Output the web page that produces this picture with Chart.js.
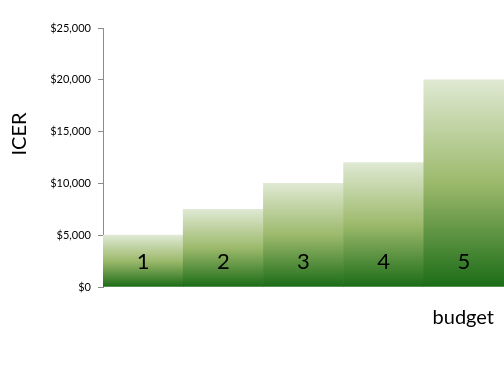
<!DOCTYPE html>
<html>
<head>
<meta charset="utf-8">
<script src="https://cdn.jsdelivr.net/npm/chart.js@4/dist/chart.umd.min.js"></script>
<style>
  html, body { margin: 0; padding: 0; background: #fff; }
  #wrap { width: 504px; height: 385px; }
</style>
</head>
<body>
<div id="wrap"><canvas id="chart"></canvas></div>
<script>
const budgets = ['1', '2', '3', '4', '5'];
const icer = [5000, 7500, 10000, 12000, 20000];
const yTicks = [0, 5000, 10000, 15000, 20000, 25000];

const FONT = 'Lato, "Open Sans", sans-serif';

// each bar gets its own light-to-dark gradient, top of bar to baseline
function barGradient(context) {
  const chart = context.chart;
  if (!chart.chartArea) return '#9bbb59';
  const y = chart.scales.y;
  const top = y.getPixelForValue(icer[context.dataIndex]);
  const bottom = y.getPixelForValue(0);
  const g = chart.ctx.createLinearGradient(0, top, 0, bottom);
  g.addColorStop(0, '#dfe9d3');
  g.addColorStop(0.5, '#9cb96b');
  g.addColorStop(1, '#1b6c17');
  return g;
}

const labelsPlugin = {
  id: 'barLabels',
  afterDatasetsDraw(chart) {
    const {ctx, chartArea} = chart;
    const meta = chart.getDatasetMeta(0);
    const base = chart.scales.y.getPixelForValue(0);
    ctx.save();
    ctx.fillStyle = '#000';
    ctx.textAlign = 'center';
    ctx.textBaseline = 'middle';
    ctx.font = '22px ' + FONT;
    meta.data.forEach((bar, i) => {
      ctx.fillText(budgets[i], bar.x, base - 25);
    });

    // axis titles
    ctx.font = '20px ' + FONT;
    ctx.textAlign = 'right';
    ctx.fillText('budget', chartArea.right - 10, 318);

    ctx.translate(20, 134);
    ctx.rotate(-Math.PI / 2);
    ctx.textAlign = 'center';
    ctx.fillText('ICER', 0, 0);
    ctx.restore();
  }
};

new Chart(document.getElementById('chart'), {
  type: 'bar',
  data: {
    labels: budgets,
    datasets: [{
      data: icer,
      backgroundColor: barGradient,
      borderWidth: 0,
      categoryPercentage: 1,
      barPercentage: 1
    }]
  },
  options: {
    responsive: true,
    maintainAspectRatio: false,
    animation: false,
    layout: { padding: { top: 28, right: 0, bottom: 58, left: 0 } },
    plugins: {
      legend: { display: false },
      tooltip: { enabled: false }
    },
    scales: {
      x: {
        ticks: { display: false },
        grid: { display: false },
        border: { display: false },
        afterFit(scale) { scale.height = 40; }
      },
      y: {
        min: 0,
        max: 25000,
        afterBuildTicks(scale) {
          scale.ticks = yTicks.map(v => ({ value: v }));
        },
        ticks: {
          padding: 7,
          color: '#000',
          font: { family: FONT, size: 11 },
          callback: v => '$' + v.toLocaleString('en-US')
        },
        grid: {
          drawOnChartArea: false,
          drawTicks: true,
          tickLength: 5,
          color: '#8c8c8c'
        },
        border: { color: '#8c8c8c' },
        afterFit(scale) { scale.width = 103; }
      }
    }
  },
  plugins: [labelsPlugin]
});
</script>
</body>
</html>
